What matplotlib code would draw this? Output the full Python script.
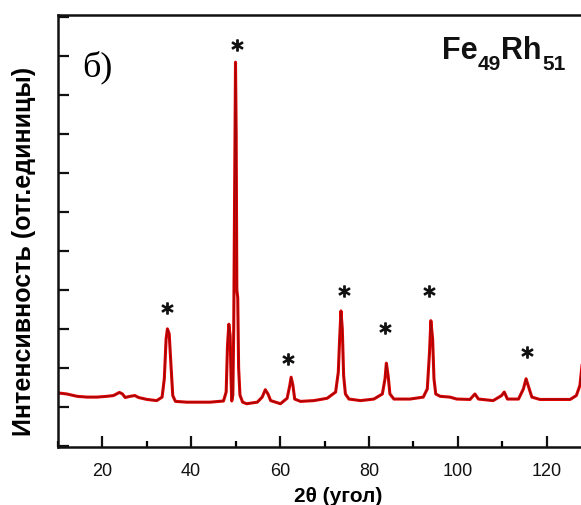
import matplotlib
matplotlib.use("Agg")
import matplotlib.pyplot as plt
from matplotlib.ticker import MultipleLocator

plt.rcParams['font.family'] = ['Liberation Sans', 'DejaVu Sans']

# XRD trace, 2theta (deg) vs intensity (arb. units)
two_theta = [9.9, 12.1, 14.4, 16.6, 18.9, 21.1, 22.6, 23.9, 24.6, 25.2, 26.3, 27.4,
             28.2, 30.1, 32.3, 33.5, 34.0, 34.4, 34.7, 35.1, 35.5, 35.9, 36.5, 39.1,
             44.3, 47.3, 47.9, 48.2, 48.5, 48.8, 49.0, 49.15, 49.4, 49.6, 49.8, 50.0,
             50.15, 50.3, 50.5, 50.7, 51.0, 51.6, 52.5, 54.9, 56.0, 56.7, 57.3, 57.9,
             60.1, 61.6, 62.2, 62.5, 62.9, 63.3, 64.6, 67.6, 70.6, 72.5, 73.1, 73.4,
             73.7, 74.0, 74.3, 74.7, 75.5, 78.1, 81.1, 83.0, 83.6, 83.9, 84.3, 84.7,
             85.6, 89.2, 92.2, 93.1, 93.6, 93.9, 94.3, 94.6, 95.0, 96.0, 98.2, 99.7,
             102.7, 103.8, 104.6, 107.9, 109.8, 110.4, 111.1, 113.6, 114.7, 115.3,
             115.9, 116.6, 118.4, 125.2, 126.6, 127.4, 128.0, 128.5]
intensity = [0.36, 0.33, 0.27, 0.25, 0.25, 0.27, 0.29, 0.37, 0.33, 0.24, 0.27, 0.29,
             0.24, 0.19, 0.16, 0.25, 0.72, 1.74, 2.0, 1.87, 1.06, 0.29, 0.14, 0.12,
             0.12, 0.15, 0.38, 1.57, 2.12, 1.82, 0.72, 0.15, 0.3, 2.0, 5.5, 8.84,
             7.0, 3.0, 2.8, 1.0, 0.3, 0.12, 0.08, 0.12, 0.25, 0.44, 0.33, 0.16,
             0.08, 0.22, 0.55, 0.76, 0.55, 0.2, 0.14, 0.16, 0.22, 0.38, 0.89, 1.74,
             2.46, 2.0, 0.8, 0.33, 0.2, 0.16, 0.2, 0.33, 0.72, 1.12, 0.8, 0.33,
             0.2, 0.2, 0.25, 0.46, 1.4, 2.21, 1.74, 0.72, 0.33, 0.27, 0.25, 0.2,
             0.19, 0.33, 0.2, 0.16, 0.29, 0.38, 0.2, 0.2, 0.46, 0.72,
             0.5, 0.25, 0.19, 0.19, 0.29, 0.55, 1.2, 1.8]

# reflections marked with asterisks
star_theta = [34.6, 50.4, 61.9, 74.4, 83.6, 93.5, 115.4]
star_level = [2.53, 9.28, 1.23, 2.96, 2.02, 2.97, 1.41]

W, H = 581, 506
fig = plt.figure(figsize=(W / 100, H / 100), dpi=100)
ax = fig.add_axes([0.099, 0.1146, 0.965, 0.8538])

ax.plot(two_theta, intensity, color='#e00000', lw=2.2, solid_joinstyle='round')
ax.plot(two_theta, intensity, color='#6a1010', lw=0.8, alpha=0.6)
ax.plot(star_theta, star_level, ls='none', marker='$*$', ms=8, color='#111111')

ax.set_xlim(10, 136)
ax.set_ylim(-1.03, 10.05)

ax.xaxis.set_major_locator(MultipleLocator(20))
ax.xaxis.set_minor_locator(MultipleLocator(10))
ax.yaxis.set_major_locator(MultipleLocator(1))
ax.set_yticklabels([])
ax.tick_params(axis='both', which='major', direction='in', length=8, width=1.6,
               labelsize=13, colors='#111111', pad=11)
ax.tick_params(axis='x', which='minor', direction='in', length=4.5, width=1.6)
ax.tick_params(axis='y', which='major', labelleft=False)

for side in ['left', 'bottom', 'top']:
    ax.spines[side].set_linewidth(1.8)
    ax.spines[side].set_color('#111111')
ax.spines['right'].set_visible(False)

ax.set_xlabel('2θ (угол)', fontsize=15, fontweight='bold', labelpad=5)
ax.set_ylabel('Интенсивность (отг.единицы)', fontsize=18, fontweight='bold')
ax.yaxis.set_label_coords(-0.038, 0.454)

ax.text(0.044, 0.88, 'б)', transform=ax.transAxes, fontsize=26,
        family=['Liberation Serif', 'DejaVu Serif'], va='center', ha='left')

# composition label with subscripts, placed piece by piece (pixel positions)
def px(x, y):
    return x / W, 1 - y / H

for s, x0, y0, fs in [('Fe', 442, 59, 22), ('49', 478, 70, 15),
                      ('Rh', 501, 59, 22), ('51', 542, 70, 15)]:
    fig.text(*px(x0, y0), s, fontsize=fs, fontweight='bold', color='#111111',
             ha='left', va='baseline')

fig.savefig('out.png', dpi=100)
